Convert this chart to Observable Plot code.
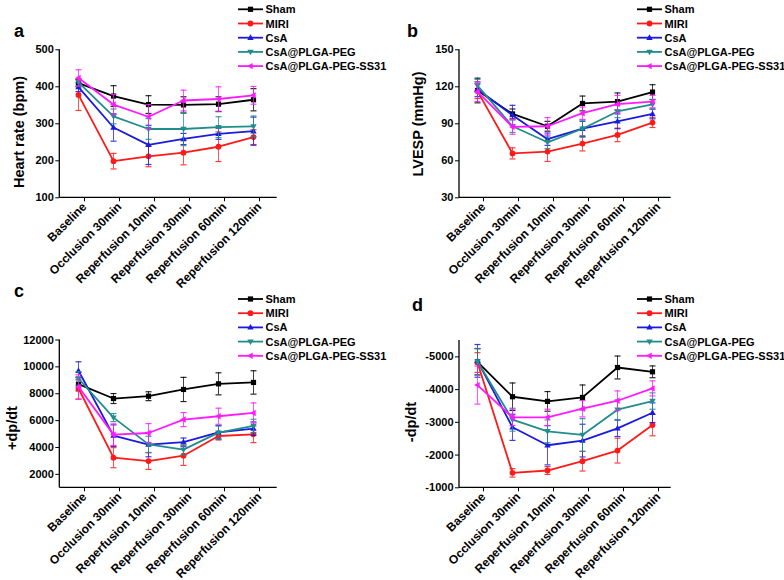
<!DOCTYPE html>
<html><head><meta charset="utf-8">
<script src="https://cdn.jsdelivr.net/npm/d3@7"></script>
<script src="https://cdn.jsdelivr.net/npm/@observablehq/plot@0.6"></script>
<style>
body{margin:0;background:#fff;}
#wrap{position:relative;width:784px;height:580px;overflow:hidden;font-family:"Liberation Sans",Arial,sans-serif;background:#fff;}
#wrap svg{position:absolute;}
</style></head><body><div id="wrap"></div>
<script>
const categories = ["Baseline","Occlusion 30min","Reperfusion 10min","Reperfusion 30min","Reperfusion 60min","Reperfusion 120min"];
const groups = ["Sham","MIRI","CsA","CsA@PLGA-PEG","CsA@PLGA-PEG-SS31"];
const colors = ["#000000","#ff1a1a","#1a1ae0","#218c8c","#ff1aff"];

// Panel a: Heart rate (bpm)
const hrSham = [410, 375, 352, 351, 353, 365];
const hrShamSD = [10, 28, 24, 22, 20, 30];
const hrMIRI = [378, 199, 212, 222, 238, 264];
const hrMIRISD = [42, 21, 28, 33, 40, 20];
const hrCsA = [399, 290, 243, 259, 273, 280];
const hrCsASD = [12, 37, 53, 15, 15, 38];
const hrPEG = [412, 320, 286, 286, 291, 293];
const hrPEGSD = [10, 20, 28, 45, 28, 28];
const hrSS31 = [424, 352, 319, 363, 367, 377];
const hrSS31SD = [22, 27, 33, 28, 33, 24];
const hrTicks = [100, 200, 300, 400, 500];

// Panel b: LVESP (mmHg)
const lvSham = [117, 98, 88, 106.5, 108, 115.7];
const lvShamSD = [10, 4, 4, 6, 7, 6];
const lvMIRI = [116.5, 66, 67.5, 74, 81, 91];
const lvMIRISD = [6, 4.5, 8, 6, 5.5, 4];
const lvCsA = [118, 97, 77.5, 86, 92, 98];
const lvCsASD = [6, 8, 5, 6, 6, 4];
const lvPEG = [121, 88, 75, 86, 100, 105.7];
const lvPEGSD = [5, 5, 5, 7, 5, 4];
const lvSS31 = [116, 87.5, 88, 98.6, 106, 108];
const lvSS31SD = [8, 6, 7, 5, 7, 5];
const lvTicks = [30, 60, 90, 120, 150];

// Panel c: +dp/dt
const pdSham = [8713, 7643, 7817, 8318, 8738, 8841];
const pdShamSD = [500, 370, 330, 900, 820, 870];
const pdMIRI = [8390, 3240, 2986, 3388, 4856, 4981];
const pdMIRISD = [800, 747, 620, 720, 300, 620];
const pdCsA = [9708, 4881, 4211, 4405, 5130, 5404];
const pdCsASD = [670, 800, 900, 300, 500, 500];
const pdPEG = [9136, 6225, 4234, 3838, 5105, 5603];
const pdPEGSD = [500, 300, 600, 400, 500, 500];
const pdSS31 = [8514, 4956, 5080, 6078, 6324, 6571];
const pdSS31SD = [900, 800, 700, 523, 600, 747];
const pdTicks = [2000, 4000, 6000, 8000, 10000, 12000];

// Panel d: -dp/dt
const ndSham = [-4848, -3782, -3640, -3761, -4675, -4543];
const ndShamSD = [400, 420, 300, 380, 350, 180];
const ndMIRI = [-4827, -1457, -1528, -1812, -2137, -2919];
const ndMIRISD = [300, 130, 120, 300, 380, 330];
const ndCsA = [-4878, -2848, -2300, -2442, -2817, -3294];
const ndCsASD = [500, 400, 600, 500, 250, 300];
const ndPEG = [-4858, -3081, -2726, -2614, -3386, -3650];
const ndPEGSD = [400, 350, 350, 500, 300, 250];
const ndSS31 = [-4137, -3152, -3152, -3416, -3660, -4036];
const ndSS31SD = [580, 250, 250, 250, 300, 230];
const ndTicks = [-5000, -4000, -3000, -2000, -1000];

const FONT = '"Liberation Sans", Arial, sans-serif';

const sym = {
  square: {draw(c){ c.rect(-2.6,-2.6,5.2,5.2); }},
  circle: {draw(c){ c.moveTo(2.9,0); c.arc(0,0,2.9,0,2*Math.PI); }},
  up: {draw(c){ c.moveTo(0,-3.4); c.lineTo(3.2,2.2); c.lineTo(-3.2,2.2); c.closePath(); }},
  down: {draw(c){ c.moveTo(0,3.4); c.lineTo(3.2,-2.2); c.lineTo(-3.2,-2.2); c.closePath(); }},
  left: {draw(c){ c.moveTo(-3.4,0); c.lineTo(2.2,-3.2); c.lineTo(2.2,3.2); c.closePath(); }},
  cap: {draw(c){ c.moveTo(-3,0); c.lineTo(3,0); }}
};
const symbols = [sym.square, sym.circle, sym.up, sym.down, sym.left];

const wrap = document.getElementById("wrap");

function panel(o) {
  const W = 300, H = 300;
  const mL = o.fl - o.left, mR = W - (o.fr - o.left), mT = o.ft - o.top, mB = H - (o.fb - o.top);
  const marks = [];
  o.means.forEach((m, i) => {
    const data = categories.map((c, j) => ({c, v: m[j], e: o.sds[i][j]}));
    marks.push(Plot.ruleX(data, {x: "c", y1: d => d.v - d.e, y2: d => d.v + d.e, stroke: colors[i], strokeWidth: 1, strokeOpacity: 0.75}));
    marks.push(Plot.dot(data, {x: "c", y: d => d.v + d.e, symbol: sym.cap, fill: "none", stroke: colors[i], strokeWidth: 1.2, strokeOpacity: 0.85}));
    marks.push(Plot.dot(data, {x: "c", y: d => d.v - d.e, symbol: sym.cap, fill: "none", stroke: colors[i], strokeWidth: 1.2, strokeOpacity: 0.85}));
    marks.push(Plot.line(data, {x: "c", y: "v", stroke: colors[i], strokeWidth: 1.8}));
    marks.push(Plot.dot(data, {x: "c", y: "v", symbol: symbols[i], fill: colors[i], stroke: "none"}));
  });
  marks.push(Plot.axisY({ticks: o.ticks, tickSize: 4, tickPadding: 2, tickFormat: d => String(d), label: null}));
  marks.push(Plot.axisX({tickSize: 4, tickPadding: 3, tickRotate: -45, label: null, fontSize: 12, dx: 6}));
  const svg = Plot.plot({
    width: W, height: H,
    marginLeft: mL, marginRight: mR, marginTop: mT, marginBottom: mB,
    style: {background: "none", overflow: "visible", fontFamily: FONT, fontSize: "11px", fontWeight: "bold", color: "#000"},
    x: {type: "point", domain: categories, padding: 0, range: [o.x0 - o.left, o.x1 - o.left]},
    y: {domain: o.domain},
    marks
  });
  svg.style.left = o.left + "px";
  svg.style.top = o.top + "px";
  const s = d3.select(svg);
  s.append("line").attr("x1", mL).attr("x2", mL).attr("y1", mT).attr("y2", H - mB).attr("stroke", "#000").attr("stroke-width", 1.3);
  s.append("line").attr("x1", mL).attr("x2", W - mR).attr("y1", H - mB).attr("y2", H - mB).attr("stroke", "#000").attr("stroke-width", 1.3);
  wrap.appendChild(svg);
}

panel({left: 0, top: 0, fl: 59.3, fr: 276.7, ft: 49.3, fb: 197.3, x0: 77, x1: 254,
  domain: [100, 500], ticks: hrTicks,
  means: [hrSham, hrMIRI, hrCsA, hrPEG, hrSS31], sds: [hrShamSD, hrMIRISD, hrCsASD, hrPEGSD, hrSS31SD]});
panel({left: 400, top: 0, fl: 459, fr: 670.7, ft: 49.3, fb: 197.3, x0: 476.3, x1: 652.3,
  domain: [30, 150], ticks: lvTicks,
  means: [lvSham, lvMIRI, lvCsA, lvPEG, lvSS31], sds: [lvShamSD, lvMIRISD, lvCsASD, lvPEGSD, lvSS31SD]});
panel({left: 0, top: 280, fl: 59.3, fr: 276.7, ft: 339.5, fb: 487.3, x0: 77, x1: 254,
  domain: [1000, 12000], ticks: pdTicks,
  means: [pdSham, pdMIRI, pdCsA, pdPEG, pdSS31], sds: [pdShamSD, pdMIRISD, pdCsASD, pdPEGSD, pdSS31SD]});
panel({left: 400, top: 280, fl: 459, fr: 670.7, ft: 340, fb: 487.3, x0: 476.3, x1: 652.3,
  domain: [-1000, -5500], ticks: ndTicks,
  means: [ndSham, ndMIRI, ndCsA, ndPEG, ndSS31], sds: [ndShamSD, ndMIRISD, ndCsASD, ndPEGSD, ndSS31SD]});

// Overlay: panel letters, axis titles, legends
const ov = d3.select(wrap).append("svg").attr("width", 784).attr("height", 580)
  .style("left", "0px").style("top", "0px").style("pointer-events", "none")
  .attr("font-family", FONT).attr("font-weight", "bold");

const letters = [["a", 14, 37], ["b", 407, 37], ["c", 14, 296.5], ["d", 412, 310.5]];
letters.forEach(([t, x, y]) => ov.append("text").attr("x", x).attr("y", y).attr("font-size", 18).text(t));

const ytitles = [["Heart rate (bpm)", 19, 132], ["LVESP (mmHg)", 418, 124], ["+dp/dt", 11.5, 428], ["-dp/dt", 411, 422]];
ytitles.forEach(([t, x, y]) => ov.append("text")
  .attr("transform", `translate(${x},${y}) rotate(-90)`)
  .attr("text-anchor", "middle").attr("dominant-baseline", "central")
  .attr("font-size", 14.5).text(t));

const legendPos = [[238, 9.3], [637, 9.3], [238, 299], [637, 299]];
const legendStep = 14.2;
legendPos.forEach(([lx, ly]) => {
  groups.forEach((g, i) => {
    const y = ly + i * legendStep;
    ov.append("line").attr("x1", lx).attr("x2", lx + 25).attr("y1", y).attr("y2", y)
      .attr("stroke", colors[i]).attr("stroke-width", 1.8);
    ov.append("path").attr("d", d3.symbol(symbols[i])()).attr("transform", `translate(${lx + 12.5},${y})`).attr("fill", colors[i]);
    ov.append("text").attr("x", lx + 27.5).attr("y", y).attr("dominant-baseline", "central")
      .attr("font-size", 11).attr("fill", "#000").text(g);
  });
});
</script></body></html>
